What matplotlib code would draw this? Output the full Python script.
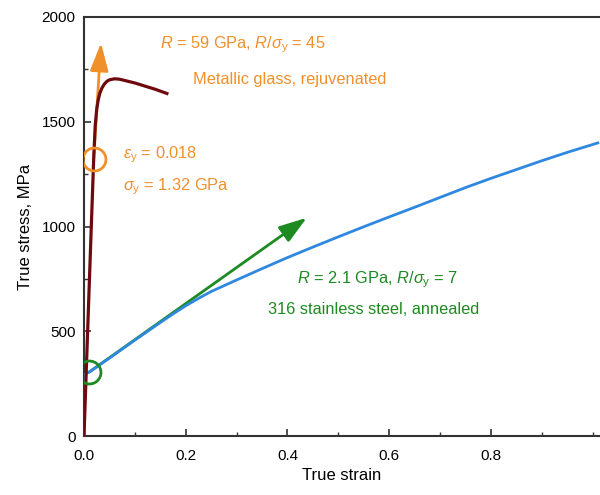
import matplotlib.pyplot as plt
from matplotlib.ticker import MultipleLocator

# ================== Data ==================
# metallic glass, rejuvenated (true strain, true stress MPa)
glass_strain = [0, 0.005, 0.010, 0.015, 0.019, 0.022, 0.025, 0.028, 0.031, 0.035,
                0.040, 0.045, 0.050, 0.060, 0.070, 0.080, 0.100, 0.120, 0.140, 0.163]
glass_stress = [0, 350, 700, 1045, 1320, 1480, 1560, 1605, 1635, 1660,
                1680, 1693, 1700, 1705, 1703, 1697, 1685, 1670, 1655, 1635]

# 316 stainless steel, annealed
steel_strain = [0, 0.0015, 0.01, 0.05, 0.10, 0.15, 0.175, 0.20, 0.225, 0.25, 0.30,
                0.35, 0.40, 0.45, 0.50, 0.55, 0.60, 0.65, 0.70, 0.75, 0.80, 0.85,
                0.90, 0.95, 1.01]
steel_stress = [0, 295, 305, 372, 458, 542, 583, 622, 657, 690, 745,
                799, 852, 902, 951, 999, 1046, 1092, 1139, 1186, 1230, 1272,
                1314, 1354, 1399]

# yield points and tangent arrows (start, end)
glass_yield = (0.019, 1320)
glass_arrow_end = (0.0334, 1876)
steel_yield = (0.0098, 305)
steel_arrow_end = (0.438, 1042)

x_ticks = [0.0, 0.2, 0.4, 0.6, 0.8]
y_ticks = [0, 500, 1000, 1500, 2000]
# ==========================================

ORANGE = '#F0902A'
DARKRED = '#6E0A0E'
BLUE = '#2F88E0'
GREEN = '#1E8A22'

plt.rcParams['font.family'] = ['Liberation Sans', 'DejaVu Sans']
plt.rcParams['mathtext.fontset'] = 'custom'
plt.rcParams['mathtext.it'] = 'Liberation Sans:italic'
plt.rcParams['mathtext.rm'] = 'Liberation Sans'

fig = plt.figure(figsize=(6.0, 4.95), dpi=100)
ax = fig.add_axes([0.14, 0.119, 0.86, 0.8467])

# tangent arrows
ax.annotate('', xy=glass_arrow_end, xytext=glass_yield,
            arrowprops=dict(arrowstyle='-|>,head_length=0.85,head_width=0.28',
                            color=ORANGE, lw=2, mutation_scale=20,
                            shrinkA=0, shrinkB=0), zorder=2)
ax.annotate('', xy=steel_arrow_end, xytext=steel_yield,
            arrowprops=dict(arrowstyle='-|>,head_length=0.85,head_width=0.28',
                            color=GREEN, lw=2, mutation_scale=20,
                            shrinkA=0, shrinkB=0), zorder=2)

# stress-strain curves
ax.plot(steel_strain, steel_stress, color=BLUE, lw=2, zorder=3)
ax.plot(glass_strain, glass_stress, color=DARKRED, lw=2.3, zorder=4)

# yield circles
ax.plot(*glass_yield, 'o', ms=16.5, mfc='none', mec=ORANGE, mew=2, zorder=5)
ax.plot(*steel_yield, 'o', ms=16.5, mfc='none', mec=GREEN, mew=2, zorder=5)

# annotations
fs = 11.8
ax.text(0.149, 1866, r'$R$ = 59 GPa, $R/\sigma_\mathrm{y}$ = 45', color=ORANGE,
        fontsize=fs, va='center', ha='left')
ax.text(0.214, 1700, 'Metallic glass, rejuvenated', color=ORANGE,
        fontsize=fs, va='center', ha='left')
ax.text(0.077, 1345, r'$\varepsilon_\mathrm{y}$ = 0.018', color=ORANGE,
        fontsize=fs, va='center', ha='left')
ax.text(0.077, 1188, r'$\sigma_\mathrm{y}$ = 1.32 GPa', color=ORANGE,
        fontsize=fs, va='center', ha='left')
ax.text(0.419, 745, r'$R$ = 2.1 GPa, $R/\sigma_\mathrm{y}$ = 7', color=GREEN,
        fontsize=fs, va='center', ha='left')
ax.text(0.362, 605, '316 stainless steel, annealed', color=GREEN,
        fontsize=fs, va='center', ha='left')

ax.set_xlim(0, 1.0143)
ax.set_ylim(0, 2000)
ax.set_xticks(x_ticks)
ax.set_xticklabels([f'{v:.1f}' for v in x_ticks])
ax.set_yticks(y_ticks)
ax.xaxis.set_minor_locator(MultipleLocator(0.1))
ax.yaxis.set_minor_locator(MultipleLocator(250))
ax.tick_params(which='both', direction='in', labelsize=11, color='#333333')
ax.tick_params(which='major', length=5, width=1.2)
ax.tick_params(which='minor', length=3, width=1.0)
ax.tick_params(axis='x', pad=9)
ax.tick_params(axis='y', pad=6)
ax.spines['right'].set_visible(False)
for s in ['left', 'bottom', 'top']:
    ax.spines[s].set_linewidth(1.5)
    ax.spines[s].set_color('#333333')

ax.set_xlabel('True strain', fontsize=12)
ax.set_ylabel('True stress, MPa', fontsize=12, labelpad=6)

plt.savefig('out.png', dpi=100)
plt.close()
